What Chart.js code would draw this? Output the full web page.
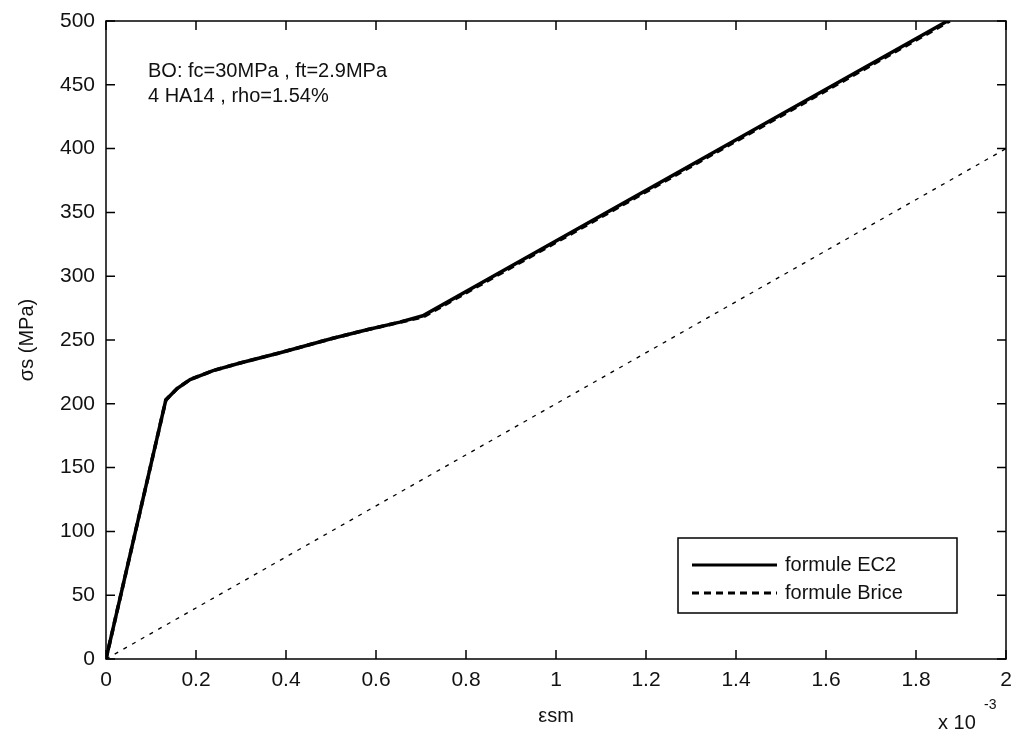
<!DOCTYPE html>
<html>
<head>
<meta charset="utf-8">
<script src="https://cdn.jsdelivr.net/npm/chart.js@4.4.1/dist/chart.umd.min.js"></script>
<style>
  html, body { margin: 0; padding: 0; background: #fff; }
  #wrap { width: 1014px; height: 738px; }
</style>
</head>
<body>
<div id="wrap"><canvas id="chart" width="1014" height="738"></canvas></div>
<script>
// tick labels (x in units of 1e-3)
const xTicks = [0, 0.2, 0.4, 0.6, 0.8, 1, 1.2, 1.4, 1.6, 1.8, 2];
const yTicks = [0, 50, 100, 150, 200, 250, 300, 350, 400, 450, 500];

// formule EC2 (solid)
const ec2X = [0, 0.133, 0.158, 0.187, 0.238, 0.298, 0.387, 0.5, 0.58, 0.653, 0.704, 1.87];
const ec2Y = [0, 203, 212, 219, 226, 232, 240, 251, 258, 264, 269, 500];

// formule Brice (dashed, almost on top of EC2)
const briceX = [0, 0.133, 0.158, 0.187, 0.238, 0.298, 0.387, 0.5, 0.58, 0.653, 0.704, 1.875];
const briceY = [0, 203, 212, 219, 226, 232, 240, 251, 258, 264, 268, 500];

// bare steel line (thin dashed, no legend entry)
const steelX = [0, 2];
const steelY = [0, 400];

const annotation = ['BO: fc=30MPa , ft=2.9MPa', '4 HA14 , rho=1.54%'];

const FONT = '"Liberation Sans", Arial, Helvetica, sans-serif';

function pts(xs, ys) {
    return xs.map((x, i) => ({ x: x, y: ys[i] }));
}

// MATLAB style frame: box, inward ticks, labels, legend, text
const matlabFrame = {
    id: 'matlabFrame',
    afterDraw(chart) {
        const ctx = chart.ctx;
        const a = chart.chartArea;
        const sx = chart.scales.x, sy = chart.scales.y;
        const tl = 9;
        ctx.save();
        ctx.strokeStyle = '#000';
        ctx.lineWidth = 1.5;
        ctx.beginPath();
        xTicks.forEach(v => {
            const px = sx.getPixelForValue(v);
            ctx.moveTo(px, a.bottom); ctx.lineTo(px, a.bottom - tl);
            ctx.moveTo(px, a.top); ctx.lineTo(px, a.top + tl);
        });
        yTicks.forEach(v => {
            const py = sy.getPixelForValue(v);
            ctx.moveTo(a.left, py); ctx.lineTo(a.left + tl, py);
            ctx.moveTo(a.right, py); ctx.lineTo(a.right - tl, py);
        });
        ctx.stroke();
        ctx.strokeRect(a.left, a.top, a.right - a.left, a.bottom - a.top);

        ctx.fillStyle = '#111';
        ctx.font = '20px ' + FONT;
        ctx.textBaseline = 'middle';

        // annotation
        ctx.textAlign = 'left';
        ctx.fillText(annotation[0], 148, 71);
        ctx.fillText(annotation[1], 148, 96);

        // axis titles
        ctx.textAlign = 'center';
        ctx.fillText('\u03b5sm', (a.left + a.right) / 2, 716);
        ctx.save();
        ctx.translate(27, (a.top + a.bottom) / 2);
        ctx.rotate(-Math.PI / 2);
        ctx.fillText('\u03c3s (MPa)', 0, 0);
        ctx.restore();

        // exponent
        ctx.textAlign = 'left';
        ctx.fillText('x 10', 938, 723);
        ctx.font = '14px ' + FONT;
        ctx.fillText('-3', 984, 705);

        // legend
        const lx = 678, ly = 538, lw = 279, lh = 75;
        ctx.fillStyle = '#fff';
        ctx.fillRect(lx, ly, lw, lh);
        ctx.strokeStyle = '#000';
        ctx.lineWidth = 1.5;
        ctx.strokeRect(lx, ly, lw, lh);
        ctx.font = '20px ' + FONT;
        ctx.fillStyle = '#111';
        const items = chart.data.datasets.filter(d => d.label);
        items.forEach((d, i) => {
            const yy = 565 + i * 28;
            ctx.beginPath();
            ctx.lineWidth = 3;
            ctx.setLineDash(d.borderDash || []);
            ctx.moveTo(692, yy); ctx.lineTo(777, yy);
            ctx.stroke();
            ctx.setLineDash([]);
            ctx.fillText(d.label, 785, yy);
        });
        ctx.restore();
    }
};

new Chart(document.getElementById('chart'), {
    type: 'line',
    data: {
        datasets: [
            {
                label: 'formule EC2',
                data: pts(ec2X, ec2Y),
                borderColor: '#000',
                borderWidth: 3.5,
                pointRadius: 0,
                tension: 0
            },
            {
                label: 'formule Brice',
                data: pts(briceX, briceY),
                borderColor: '#000',
                borderWidth: 3.5,
                borderDash: [7, 5],
                pointRadius: 0,
                tension: 0
            },
            {
                label: '',
                data: pts(steelX, steelY),
                borderColor: '#000',
                borderWidth: 1.3,
                borderDash: [4, 6],
                pointRadius: 0,
                tension: 0
            }
        ]
    },
    options: {
        responsive: false,
        animation: false,
        devicePixelRatio: 1,
        layout: { padding: { top: 21, right: 8, left: 0, bottom: 0 } },
        plugins: {
            legend: { display: false },
            tooltip: { enabled: false }
        },
        scales: {
            x: {
                type: 'linear',
                min: 0, max: 2,
                afterBuildTicks: s => { s.ticks = xTicks.map(v => ({ value: v })); },
                afterFit: s => { s.height = 738 - 659; s.paddingLeft = 0; s.paddingRight = 0; },
                grid: { display: false, drawTicks: false },
                border: { display: false },
                ticks: {
                    padding: 9,
                    maxRotation: 0,
                    color: '#111',
                    font: { family: FONT, size: 21 },
                    callback: v => String(Number(v.toFixed(1)))
                }
            },
            y: {
                type: 'linear',
                min: 0, max: 500,
                afterBuildTicks: s => { s.ticks = yTicks.map(v => ({ value: v })); },
                afterFit: s => { s.width = 106; s.paddingTop = 0; s.paddingBottom = 0; },
                grid: { display: false, drawTicks: false },
                border: { display: false },
                ticks: {
                    padding: 11,
                    color: '#111',
                    font: { family: FONT, size: 21 }
                }
            }
        }
    },
    plugins: [matlabFrame]
});
</script>
</body>
</html>
